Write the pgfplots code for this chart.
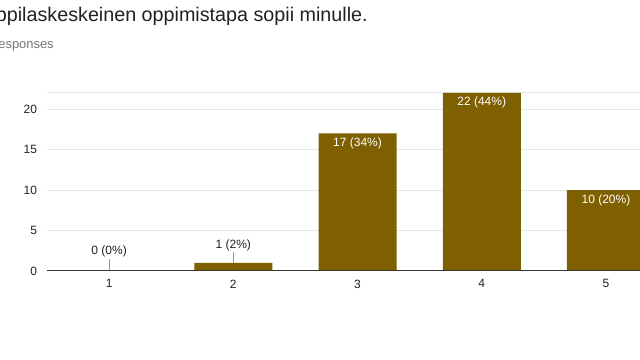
\documentclass[border=0pt]{standalone}
\usepackage{pgfplots}
\pgfplotsset{compat=1.18}
\usepackage{fontspec}
\setmainfont{Liberation Sans}
\definecolor{barc}{RGB}{127,96,0}
\definecolor{gridc}{RGB}{230,230,230}
\definecolor{txt}{RGB}{33,33,33}
\definecolor{subc}{RGB}{117,117,117}
\begin{document}
\begin{tikzpicture}
\useasboundingbox (0,0) rectangle (480pt,270pt);
\clip (0,0) rectangle (480pt,270pt);
\node[anchor=base east, inner sep=0pt, text=txt, font=\fontsize{14.8pt}{17pt}\selectfont] at (276pt,253.5pt) {Oppilaskeskeinen oppimistapa sopii minulle.};
\node[anchor=base east, inner sep=0pt, text=subc, font=\fontsize{9.7pt}{11pt}\selectfont] at (40.5pt,233.25pt) {50 responses};
\begin{axis}[
  at={(35.25pt,66.75pt)}, anchor=south west,
  scale only axis, width=444.75pt, height=133.5pt,
  xmin=0.5, xmax=5.274, ymin=0, ymax=22,
  axis line style={draw=none},
  xtick={1,2,3,4,5}, ytick={0,5,10,15,20},
  extra y ticks={22}, extra y tick labels={},
  extra y tick style={grid=major, major tick length=0pt},
  ymajorgrids, grid style={gridc, line width=0.75pt},
  major tick length=0pt,
  tick label style={text=txt, font=\fontsize{9pt}{11pt}\selectfont},
  yticklabel style={xshift=-4pt},
  xticklabel style={yshift=-3pt},
  /pgf/number format/assume math mode=true,
  clip=true,
]
% leader lines for small bars
\addplot[ycomb, draw=gray!80, line width=0.75pt, mark=none,
  point meta=explicit symbolic,
  nodes near coords, nodes near coords style={anchor=south, text=txt, inner sep=1pt, font=\fontsize{9pt}{11pt}\selectfont}]
  coordinates {(1,1.5) [0 (0\%)] (2,2.3) [1 (2\%)]};
% bars
\addplot[ybar, bar width=58.5pt, fill=barc, draw=none,
  point meta=explicit symbolic,
  nodes near coords, nodes near coords style={anchor=north, text=white, inner sep=3pt, font=\fontsize{9pt}{11pt}\selectfont}]
  coordinates {(1,0) [] (2,1) [] (3,17) [17 (34\%)] (4,22) [22 (44\%)] (5,10) [10 (20\%)]};
\draw[draw={rgb,255:red,51;green,51;blue,51}, line width=1.1pt] (axis cs:0.5,0) -- (axis cs:5.274,0);
\end{axis}
\end{tikzpicture}
\end{document}
